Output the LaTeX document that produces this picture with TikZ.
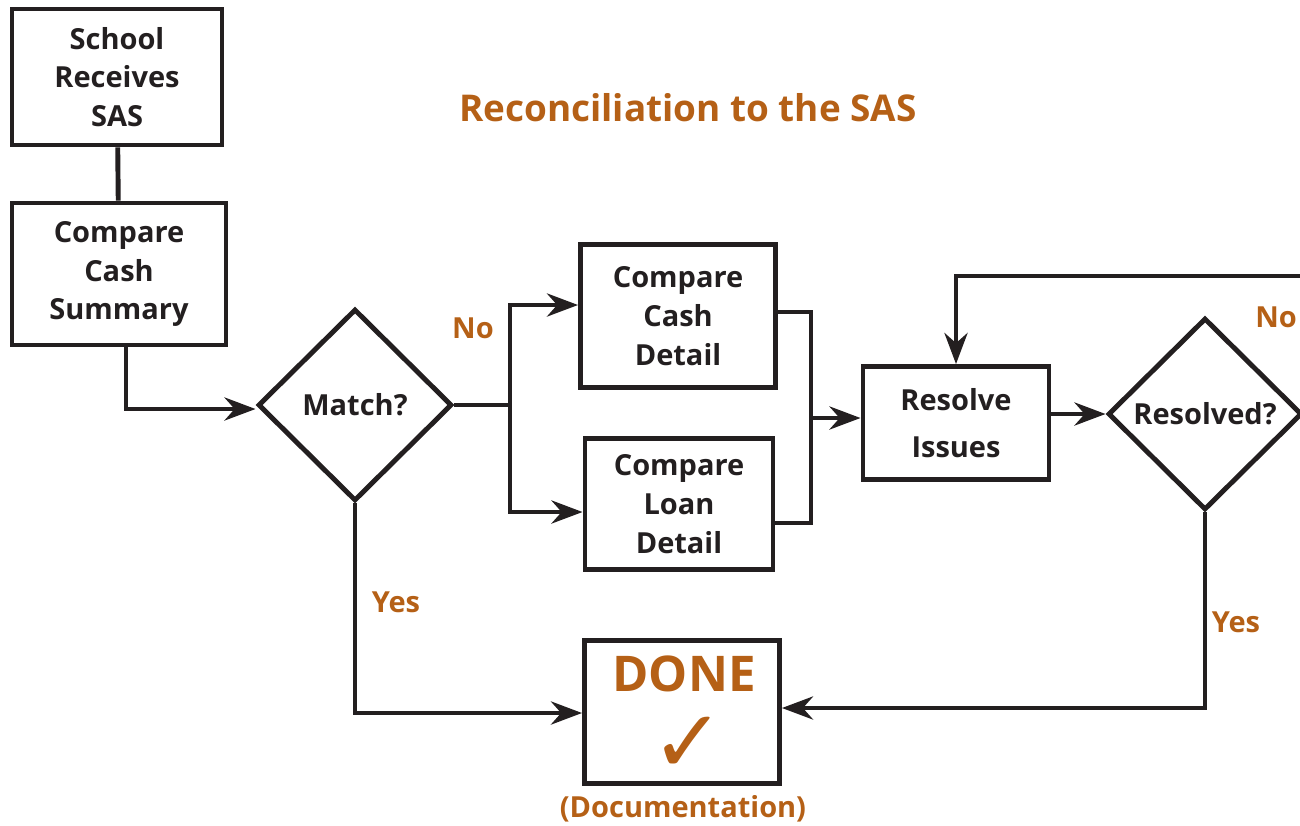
\documentclass[tikz,border=0pt]{standalone}
\usepackage{fontspec}
\setmainfont{Open Sans}
\newfontfamily\symfont{DejaVu Sans}
\usetikzlibrary{shapes.geometric, arrows.meta, positioning}
\definecolor{sasorange}{RGB}{181, 96, 22}
\definecolor{sasblack}{RGB}{35, 31, 32}

\begin{document}
\begin{tikzpicture}[x=0.02cm, y=-0.02cm, >={Stealth[length=0.62cm, width=0.46cm]}, line width=2.8pt, draw=sasblack, font=\fontsize{16.5}{22}\selectfont\bfseries]
    % Local styles
    \tikzset{
        box/.style={draw=sasblack, align=center, inner sep=0pt, text=sasblack},
        decision/.style={draw=sasblack, diamond, align=center, inner sep=0pt, text=sasblack, minimum width=3.88cm, minimum height=3.84cm},
        lbl/.style={text=sasorange}
    }
    \useasboundingbox (0,0) rectangle (1300,825);
    \clip (0,0) rectangle (1300,825);

    % Title
    \node[lbl, font=\fontsize{21}{25}\selectfont\bfseries] (title) at (688, 108) {Reconciliation to the SAS};

    % Left column
    \node[box, minimum width=4.2cm, minimum height=2.72cm] (school) at (117, 77) {School\\Receives\\SAS};
    \node[box, minimum width=4.28cm, minimum height=2.84cm] (summary) at (119, 274) {Compare\\Cash\\Summary};

    % Decisions
    \node[decision] (match) at (355, 405) {Match?};
    \node[decision] (resolved) at (1205, 414) {Resolved?};

    % Detail boxes
    \node[box, minimum width=3.9cm, minimum height=2.86cm] (cashdetail) at (678, 316) {Compare\\Cash\\Detail};
    \node[box, minimum width=3.76cm, minimum height=2.62cm] (loandetail) at (679, 504) {Compare\\Loan\\Detail};
    \node[box, minimum width=3.72cm, minimum height=2.26cm] (resolve) at (956, 423) {Resolve\\[0.18cm]Issues};

    % Done box
    \node[box, minimum width=3.9cm, minimum height=2.86cm] (done) at (682, 712) {};
    \node[lbl, inner sep=0pt, font=\fontsize{28}{30}\selectfont\bfseries] (donetext) at (684, 674) {DONE};
    \node[lbl, inner sep=0pt, font=\fontsize{50}{52}\symfont] (check) at (688, 745) {✓};
    \node[lbl] (doc) at (683, 809) {(Documentation)};

    % Branch points
    \coordinate (split) at (510, 405);
    \coordinate (merge) at (811, 418);
    \coordinate (loop) at (1300, 276);

    % Connectors
    \draw (school) -- (summary);
    \draw[->] ([xshift=0.14cm]summary.south) |- ([yshift=-0.08cm]match.west);
    \draw (match.east) -- (split);
    \draw[->] (split) |- ([yshift=0.22cm]cashdetail.west);
    \draw[->] (split) |- ([yshift=-0.16cm]loandetail.west);
    \draw (cashdetail.east |- 0, 312) -| (merge) |- (loandetail.east |- 0, 523);
    \draw[->] (merge) -- (resolve.west |- merge);
    \draw[->] (resolve.east |- resolved.west) -- (resolved.west);
    \draw[->] (loop) -| (resolve.north);
    \draw[->] (match.south) |- ([yshift=-0.02cm]done.west);
    \draw[->] (resolved.south) |- ([yshift=0.08cm]done.east);

    % Branch labels
    \node[lbl] (nomatch) at (473, 328) {No};
    \node[lbl] (yesmatch) at (396, 602) {Yes};
    \node[lbl] (noresolved) at (1276, 317) {No};
    \node[lbl] (yesresolved) at (1236, 622) {Yes};
\end{tikzpicture}
\end{document}
